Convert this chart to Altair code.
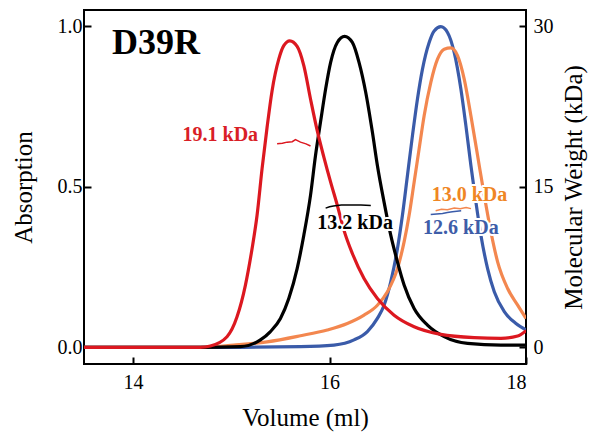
import altair as alt
import pandas as pd

# ---- absorption traces (Volume in ml, absorption) ----
vol_red = [13.5, 14.684, 14.786, 14.956, 15.058, 15.143, 15.211, 15.262, 15.313, 15.364, 15.415, 15.483,
           15.534, 15.595, 15.670, 15.738, 15.806, 15.874, 15.942, 16.011, 16.079, 16.147, 16.232, 16.351,
           16.487, 16.657, 16.861, 17.133, 17.473, 17.745, 17.915, 18.0]
abs_red = [0.0, 0.0, 0.004, 0.033, 0.095, 0.193, 0.307, 0.411, 0.556, 0.685, 0.799, 0.897,
           0.939, 0.954, 0.937, 0.877, 0.773, 0.675, 0.592, 0.514, 0.442, 0.364, 0.292, 0.214,
           0.152, 0.100, 0.064, 0.040, 0.030, 0.028, 0.035, 0.052]

vol_black = [13.5, 14.684, 15.092, 15.296, 15.398, 15.500, 15.585, 15.670, 15.738, 15.806, 15.857, 15.908,
             15.960, 16.011, 16.079, 16.153, 16.232, 16.300, 16.368, 16.436, 16.487, 16.555, 16.623,
             16.691, 16.759, 16.861, 16.997, 17.167, 17.405, 17.745, 18.0]
abs_black = [0.0, 0.0, 0.002, 0.023, 0.049, 0.090, 0.152, 0.245, 0.349, 0.473, 0.597, 0.701,
             0.804, 0.887, 0.949, 0.968, 0.949, 0.887, 0.794, 0.670, 0.566, 0.452, 0.349,
             0.266, 0.194, 0.121, 0.069, 0.033, 0.012, 0.007, 0.007]

vol_blue = [13.5, 15.0, 15.704, 16.045, 16.249, 16.385, 16.487, 16.555, 16.623, 16.691, 16.742, 16.793,
            16.844, 16.895, 16.946, 17.014, 17.065, 17.133, 17.201, 17.269, 17.337, 17.388, 17.439,
            17.490, 17.541, 17.609, 17.677, 17.779, 17.898, 18.0]
abs_blue = [0.0, 0.0, 0.002, 0.007, 0.023, 0.049, 0.090, 0.131, 0.204, 0.307, 0.411, 0.535,
            0.659, 0.773, 0.866, 0.949, 0.985, 0.998, 0.980, 0.918, 0.804, 0.690, 0.566,
            0.452, 0.349, 0.245, 0.173, 0.111, 0.074, 0.054]

vol_orange = [13.5, 14.684, 15.024, 15.364, 15.704, 15.977, 16.181, 16.351, 16.487, 16.589, 16.691, 16.759,
              16.810, 16.861, 16.912, 16.963, 17.031, 17.099, 17.167, 17.235, 17.303, 17.371, 17.439,
              17.507, 17.575, 17.643, 17.711, 17.813, 17.915, 18.0]
abs_orange = [0.0, 0.0, 0.007, 0.017, 0.036, 0.054, 0.074, 0.100, 0.131, 0.173, 0.245, 0.328,
              0.411, 0.514, 0.618, 0.721, 0.825, 0.897, 0.928, 0.932, 0.908, 0.835, 0.721,
              0.597, 0.473, 0.359, 0.266, 0.183, 0.131, 0.090]

# ---- molecular weight traces (Volume in ml, kDa) ----
mw_vol_red = [15.466, 15.52, 15.568, 15.62, 15.653, 15.704, 15.76, 15.806]
mw_red = [19.0, 19.05, 19.16, 19.2, 19.4, 19.16, 19.0, 18.8]
mw_vol_black = [15.96, 16.0, 16.04, 16.12, 16.21, 16.32, 16.42]
mw_black = [13.0, 13.12, 13.2, 13.28, 13.3, 13.3, 13.25]
mw_vol_blue = [17.03, 17.09, 17.15, 17.20, 17.25, 17.34]
mw_blue = [12.4, 12.45, 12.5, 12.58, 12.65, 12.75]
mw_vol_orange = [17.08, 17.14, 17.20, 17.27, 17.33, 17.39, 17.44]
mw_orange = [12.75, 12.9, 12.85, 13.0, 12.95, 13.05, 12.95]

# ---- annotation labels ----
label_text = ["19.1 kDa", "13.2 kDa", "13.0 kDa", "12.6 kDa"]
label_vol = [14.888, 16.26, 17.425, 17.337]
label_abs = [0.6416, 0.367, 0.455, 0.352]
panel_text = ["D39R"]
panel_vol = [13.786]
panel_abs = [0.913]

x_ticks = [14, 16, 18]
left_ticks = [0.0, 0.5, 1.0]
right_ticks = [0, 15, 30]

FONT = "Liberation Serif"
line_colors = {"red": "#DC1820", "black": "#000000", "blue": "#3A5BA9", "orange": "#F3874F"}
text_colors = {"19.1 kDa": "#D91E26", "13.2 kDa": "#000000", "13.0 kDa": "#EF8624", "12.6 kDa": "#3E5DA8"}

x_scale = alt.Scale(domain=[13.5, 18], nice=False, zero=False)
yl_scale = alt.Scale(domain=[-0.052, 1.05], nice=False, zero=False)
yr_scale = alt.Scale(domain=[-1.56, 31.5], nice=False, zero=False)

x_axis = alt.Axis(values=x_ticks, format="d", title="Volume (ml)", titlePadding=13, labelPadding=8)
yl_axis = alt.Axis(values=left_ticks, format=".1f", title="Absorption", titlePadding=21, labelPadding=2)
yr_axis = alt.Axis(values=right_ticks, format="d", title="Molecular Weight (kDa)", orient="right",
                   titleAngle=270, titleBaseline="top", titlePadding=8, labelPadding=7)

abs_series = [("blue", vol_blue, abs_blue), ("orange", vol_orange, abs_orange),
              ("black", vol_black, abs_black), ("red", vol_red, abs_red)]
mw_series = [("blue", mw_vol_blue, mw_blue), ("orange", mw_vol_orange, mw_orange),
             ("black", mw_vol_black, mw_black), ("red", mw_vol_red, mw_red)]

enc_l = dict(x=alt.X("vol:Q", scale=x_scale, axis=x_axis), y=alt.Y("abs:Q", scale=yl_scale, axis=yl_axis))

left_layers = []
for name, xs, ys in abs_series:
    df = pd.DataFrame({"vol": xs, "abs": ys})
    left_layers.append(
        alt.Chart(df).mark_line(color=line_colors[name], strokeWidth=3.2, interpolate="monotone", clip=True)
        .encode(**enc_l)
    )

lab_df = pd.DataFrame({"vol": label_vol, "abs": label_abs, "label": label_text})
# white halo behind the labels
left_layers.append(
    alt.Chart(lab_df).mark_text(font=FONT, fontSize=20, fontWeight="bold", color="white", stroke="white",
                                strokeWidth=4, strokeJoin="round", align="center", baseline="alphabetic")
    .encode(text="label:N", **enc_l)
)
for t, xv, yv in zip(label_text, label_vol, label_abs):
    df = pd.DataFrame({"vol": [xv], "abs": [yv], "label": [t]})
    left_layers.append(
        alt.Chart(df).mark_text(font=FONT, fontSize=20, fontWeight="bold", color=text_colors[t],
                                align="center", baseline="alphabetic")
        .encode(text="label:N", **enc_l)
    )

pdf = pd.DataFrame({"vol": panel_vol, "abs": panel_abs, "label": panel_text})
left_layers.append(
    alt.Chart(pdf).mark_text(font=FONT, fontSize=36, fontWeight="bold", color="black",
                             align="left", baseline="alphabetic")
    .encode(text="label:N", **enc_l)
)

right_layers = []
for name, xs, ys in mw_series:
    df = pd.DataFrame({"vol": xs, "mw": ys})
    right_layers.append(
        alt.Chart(df).mark_line(color=line_colors[name], strokeWidth=1.5, clip=True)
        .encode(x=alt.X("vol:Q", scale=x_scale, axis=x_axis),
                y=alt.Y("mw:Q", scale=yr_scale, axis=yr_axis))
    )

left = alt.layer(*left_layers)
right = alt.layer(*right_layers)

chart = (
    alt.layer(left, right)
    .resolve_scale(y="independent")
    .properties(width=442, height=354, autosize=alt.AutoSizeParams(type="none"),
                padding={"left": 84, "top": 10, "right": 70, "bottom": 73}, background="white")
    .configure_view(stroke="black", strokeWidth=2)
    .configure_axis(labelFont=FONT, labelFontSize=20, labelColor="black",
                    titleFont=FONT, titleFontSize=25, titleFontWeight="normal", titleColor="black",
                    tickColor="black", tickWidth=2, tickSize=7, offset=-7, domain=False, grid=False)
)

chart.save("out.html", embed_options={"renderer": "svg", "actions": False})
